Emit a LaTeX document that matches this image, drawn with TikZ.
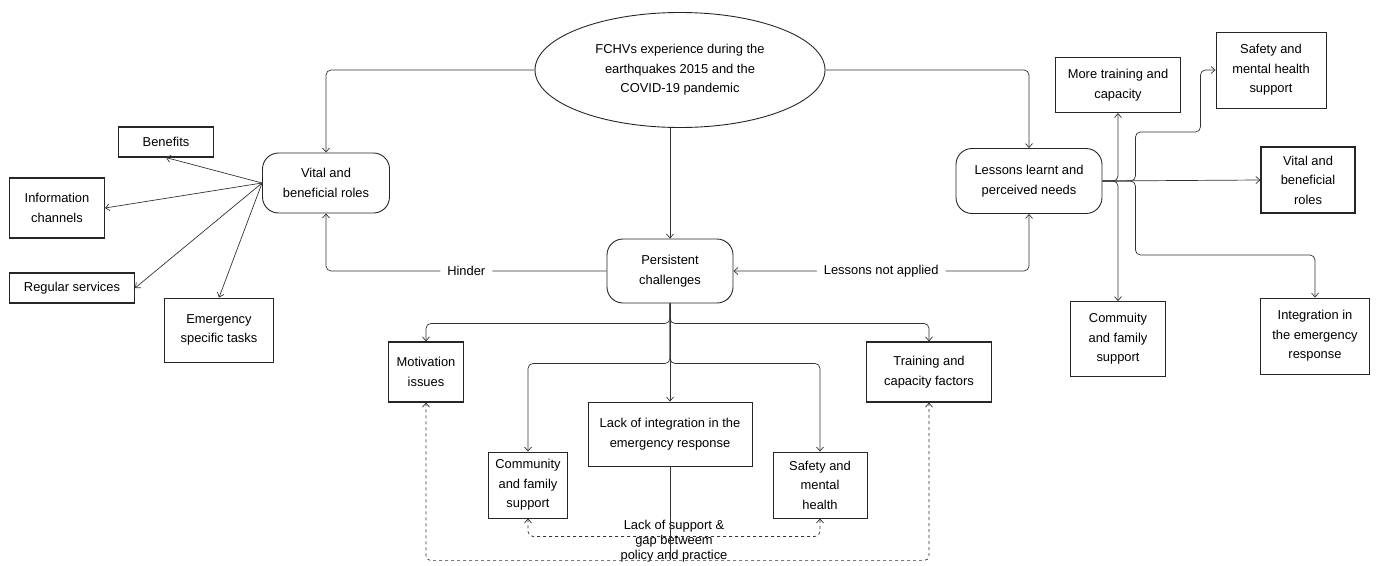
\documentclass[tikz,border=0pt]{standalone}
\usepackage{fontspec}
\setmainfont{Liberation Sans}
\usetikzlibrary{shapes.geometric, arrows.meta}

\begin{document}
\begin{tikzpicture}[x=1pt, y=-1pt, font=\fontsize{12.9}{19.5}\selectfont,
        >={Straight Barb[length=4pt, width=7pt]},
        box/.style={draw=black!85, line width=0.9pt, rectangle, align=center, inner sep=0pt},
        pill/.style={box, rounded corners=16pt},
        link/.style={draw=black!80, line width=0.7pt, rounded corners=5pt},
        note/.style={fill=white, inner xsep=7pt, inner ysep=1pt}]
    \useasboundingbox (0,0) rectangle (1378,565);

    % Nodes
    \node [box, ellipse, minimum width=290pt, minimum height=115pt] (fchv) at (680,70) {FCHVs experience during the\\ earthquakes 2015 and the\\ COVID-19 pandemic};
    \node [pill, minimum width=127pt, minimum height=60pt] (vital) at (326,183) {Vital and\\ beneficial roles};
    \node [pill, minimum width=126pt, minimum height=64pt] (persist) at (670,271) {Persistent\\ challenges};
    \node [pill, minimum width=146pt, minimum height=65pt] (lessons) at (1029,181) {Lessons learnt and\\ perceived needs};

    % left branch
    \node [box, minimum width=95pt, minimum height=30pt, line width=1.1pt] (benefit) at (166,142) {Benefits};
    \node [box, minimum width=95pt, minimum height=60pt, line width=1.1pt] (infochan) at (57,208) {Information\\ channels};
    \node [box, minimum width=125pt, minimum height=30pt, line width=1.1pt] (regular) at (72,288) {Regular services};
    \node [box, minimum width=109pt, minimum height=64pt] (emerg) at (219,330) {Emergency\\ specific tasks};

    % right branch
    \node [box, minimum width=125pt, minimum height=55pt, line width=1.1pt] (moretrain) at (1118,85) {More training and\\ capacity};
    \node [box, minimum width=110pt, minimum height=76pt] (safesup) at (1271,70) {Safety and\\ mental health\\ support};
    \node [box, minimum width=94pt, minimum height=66pt, line width=1.1pt] (rvital) at (1308,180) {Vital and\\ beneficial\\ roles};
    \node [box, minimum width=95pt, minimum height=75pt] (commuity) at (1118,339) {Commuity\\ and family\\ support};
    \node [box, minimum width=109pt, minimum height=76pt] (integ) at (1315,336) {Integration in\\ the emergency\\ response};

    % challenges
    \node [box, minimum width=75pt, minimum height=60pt, line width=1.2pt] (motiv) at (426,372) {Motivation\\ issues};
    \node [box, minimum width=125pt, minimum height=60pt, line width=1.2pt] (trainfac) at (929,372) {Training and\\ capacity factors};
    \node [box, minimum width=164pt, minimum height=64pt] (lackint) at (670,434) {Lack of integration in the\\ emergency response};
    \node [box, minimum width=79pt, minimum height=66pt] (commun) at (528,485) {Community\\ and family\\ support};
    \node [box, minimum width=94pt, minimum height=66pt] (safemh) at (820,485) {Safety and\\ mental\\ health};

    % Arrows
    \draw [link, ->] (fchv.west) -| (vital.north);
    \draw [link, ->] (fchv.east) -| (lessons.north);
    \draw [link, ->] (fchv.south -| persist.north) -- (persist.north);
    \draw [link, ->] (persist.west) -| node[note, pos=0.25] {Hinder} (vital.south);
    \draw [link, <->] (persist.east) -- node[note] {Lessons not applied} (lessons.south |- persist.east) -- (lessons.south);

    \draw [link, ->] (vital.west) -- (benefit.south);
    \draw [link, ->] (vital.west) -- (infochan.east);
    \draw [link, ->] (vital.west) -- (regular.east);
    \draw [link, ->] (vital.west) -- (emerg.north);

    \draw [link, ->] (lessons.east) -- (rvital.west);
    \draw [link, ->] (lessons.east) -| (moretrain.south);
    \draw [link, ->] (lessons.east) -| (commuity.north);
    \draw [link, ->] (lessons.east) -- ++(33,0) |- ++(65,-49) |- (safesup.west);
    \draw [link, ->] (lessons.east) -- ++(33,0) -- ++(0,74) -| (integ.north);

    \draw [link, ->] (persist.south) -- ++(0,20) -| (motiv.north);
    \draw [link, ->] (persist.south) -- ++(0,20) -| (trainfac.north);
    \draw [link, ->] (persist.south) -- ++(0,60) -| (commun.north);
    \draw [link, ->] (persist.south) -- ++(0,60) -| (safemh.north);
    \draw [link, ->] (persist.south) -- (lackint.north);

    \draw [link, <->, dashed] (commun.south) -- ++(0,18) -| node[pos=0.25, yshift=-5pt, font=\fontsize{12.9}{15}\selectfont, align=center] (gaplbl) {Lack of support \&\\ gap betweem\\ policy and practice} (safemh.south);
    \draw [link, <->, dashed] (motiv.south) -- ++(0,158) -| (trainfac.south);
    \draw [link] (lackint.south) -- ++(0,94);

\end{tikzpicture}
\end{document}
